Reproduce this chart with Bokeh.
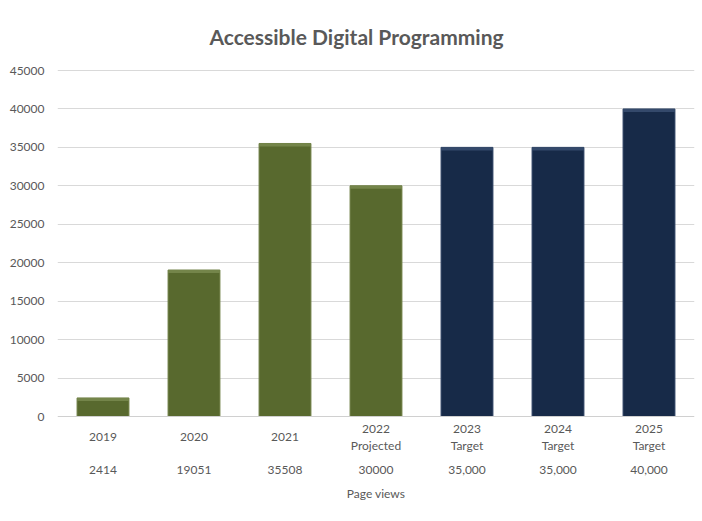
from bokeh.plotting import figure
from bokeh.models import ColumnDataSource, FactorRange, FixedTicker, Span, Range1d
from bokeh.embed import file_html
from bokeh.resources import INLINE
from bokeh.core.properties import value

# ---- data ----
years = ["2019", "2020", "2021", "2022", "2023", "2024", "2025"]
sub_labels = ["", "", "", "Projected", "Target", "Target", "Target"]
page_views = [2414, 19051, 35508, 30000, 35000, 35000, 40000]
table_values = ["2414", "19051", "35508", "30000", "35,000", "35,000", "40,000"]
kinds = ["actual", "actual", "actual", "actual", "target", "target", "target"]
y_ticks = [0, 5000, 10000, 15000, 20000, 25000, 30000, 35000, 40000, 45000]
title_text = "Accessible Digital Programming"
axis_title = "Page views"

FONT = "Lato"
TXT = "#595959"
fill_map = {"actual": "#58692e", "target": "#172a48"}
edge_map = {"actual": "#6f7f45", "target": "#2e4263"}
hi_map = {"actual": "#74854a", "target": "#34496b"}

# layout (pixels)
W, H = 700, 519
F_LEFT, F_RIGHT, F_TOP, F_BOTTOM = 57, 694, 10, 510
Y0_PX, YMAX_PX = 416, 70          # pixel rows of 0 and 45000
u = (y_ticks[-1] - y_ticks[0]) / (Y0_PX - YMAX_PX)   # data units per pixel
y_start = -(F_BOTTOM - Y0_PX) * u
y_end = y_ticks[-1] + (YMAX_PX - F_TOP) * u

cat_labels = [y if s == "" else y + "\n" + s for y, s in zip(years, sub_labels)]
src = ColumnDataSource(dict(
    x=years, top=page_views,
    hi_bottom=[v - 3 * u for v in page_views],
    fill=[fill_map[k] for k in kinds], edge=[edge_map[k] for k in kinds],
    hi=[hi_map[k] for k in kinds],
    cat=cat_labels, cat_y=[-20.7 * u] * len(years),
    val=table_values, val_y=[-53 * u] * len(years),
))

p = figure(width=W, height=H, x_range=FactorRange(*years, range_padding=0),
           y_range=Range1d(y_start, y_end), output_backend="svg", toolbar_location=None,
           min_border_left=F_LEFT, min_border_right=W - F_RIGHT,
           min_border_top=F_TOP, min_border_bottom=H - F_BOTTOM)
p.outline_line_color = None
p.background_fill_color = "white"
p.border_fill_color = "white"

# y axis / grid
p.yaxis.ticker = FixedTicker(ticks=y_ticks)
p.yaxis.axis_line_color = None
p.yaxis.major_tick_line_color = None
p.yaxis.minor_tick_line_color = None
p.yaxis.major_label_text_font = FONT
p.yaxis.major_label_text_font_size = "12px"
p.yaxis.major_label_text_color = TXT
p.yaxis.major_label_standoff = 7
p.ygrid.grid_line_color = "#d9d9d9"
p.ygrid.ticker = FixedTicker(ticks=y_ticks[1:])
p.xgrid.grid_line_color = None
p.xaxis.visible = False

# baseline
p.add_layout(Span(location=0, dimension="width", line_color="#d0d0d0", line_width=1))

# bars
p.vbar(x="x", top="top", width=0.57, source=src, fill_color="fill",
       line_color="edge", line_width=1)
p.vbar(x="x", top="top", bottom="hi_bottom", width=0.57, source=src,
       fill_color="hi", line_color=None)

# category labels and data table row
p.text(x="x", y="cat_y", text="cat", source=src, text_align="center",
       text_baseline="middle", text_font=value(FONT), text_font_size="12px",
       text_color=TXT, text_line_height=1.12)
p.text(x="x", y="val_y", text="val", source=src, text_align="center",
       text_baseline="middle", text_font=value(FONT), text_font_size="12px",
       text_color=TXT)
p.text(x=[years[3]], y=[-77 * u], text=[axis_title], text_align="center",
       text_baseline="middle", text_font=value(FONT), text_font_size="12px",
       text_color=TXT)

# title
p.text(x=[(356 - F_LEFT) / ((F_RIGHT - F_LEFT) / len(years))],
       y=[y_ticks[-1] + (YMAX_PX - 36) * u], text=[title_text],
       text_align="center", text_baseline="middle", text_font=value(FONT),
       text_font_size="21px", text_font_style="bold", text_color=TXT)

open("out.html", "w").write(file_html(p, INLINE))
